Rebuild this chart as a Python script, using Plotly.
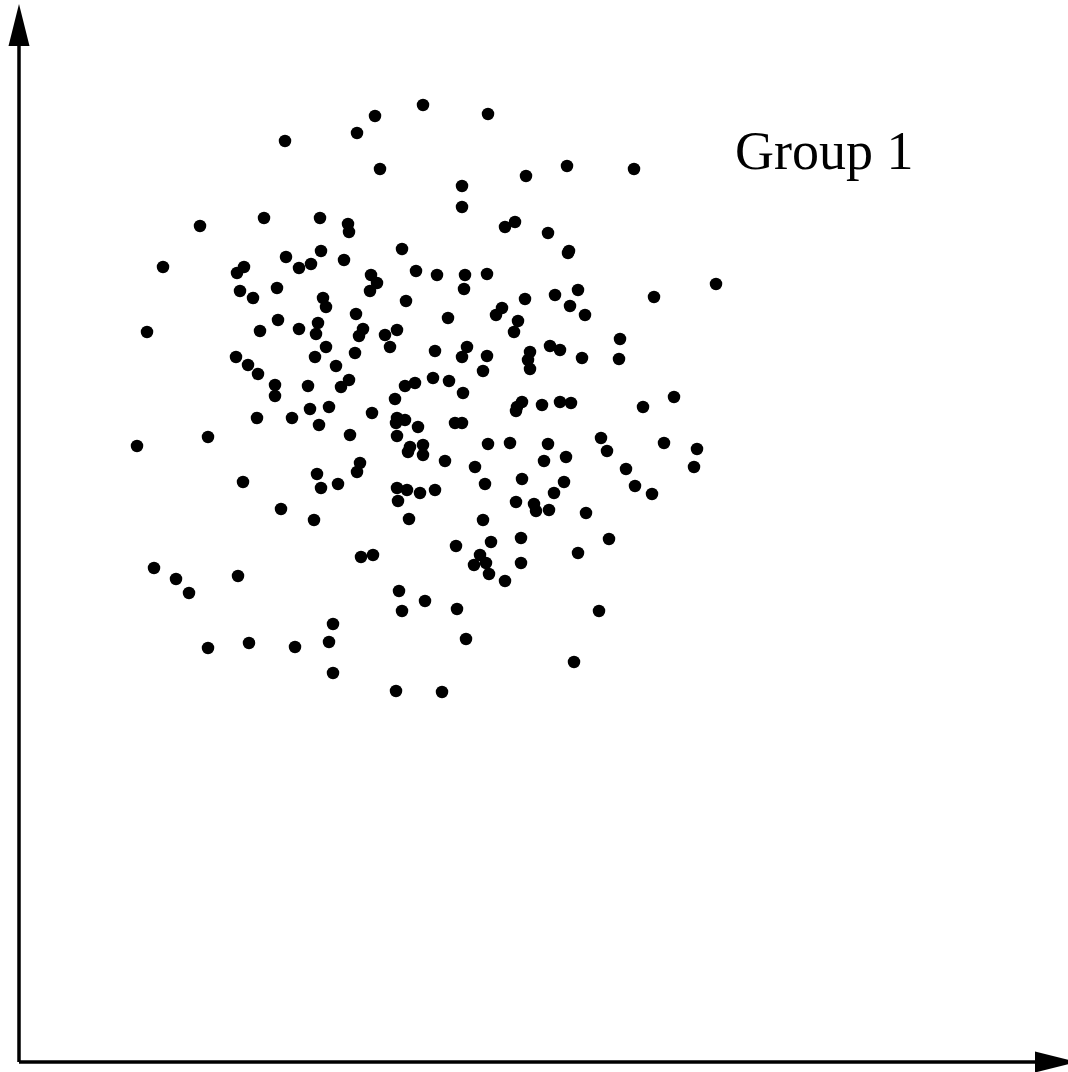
import plotly.graph_objects as go

# Point positions (units: pixels from the axis origin)
ORIGIN_X = 19
ORIGIN_Y = 1062
px = [423, 488, 375, 357, 285, 380, 567, 634, 462, 526, 462, 200, 264, 320, 348, 349, 505, 515, 548, 402,
      321, 286, 344, 568, 569, 311, 299, 244, 237, 163, 416, 371, 377, 370, 240, 277, 253, 323, 437, 465,
      487, 464, 716, 525, 555, 578, 654, 326, 406, 147, 260, 278, 299, 318, 316, 356, 363, 359, 385, 397,
      390, 326, 315, 355, 236, 248, 258, 275, 275, 308, 336, 349, 341, 395, 405, 415, 310, 329, 257, 292,
      372, 319, 350, 397, 405, 396, 418, 397, 410, 408, 423, 423, 208, 137, 317, 360, 357, 243, 321, 338,
      397, 407, 420, 570, 585, 448, 502, 496, 518, 514, 620, 619, 435, 467, 462, 487, 483, 530, 528, 530,
      550, 560, 582, 433, 449, 463, 522, 517, 516, 542, 560, 571, 643, 674, 455, 462, 488, 510, 548, 601,
      607, 664, 697, 694, 445, 475, 544, 566, 626, 522, 485, 564, 635, 435, 554, 652, 516, 534, 536, 549,
      586, 483, 456, 491, 521, 609, 578, 480, 474, 486, 489, 521, 505, 425, 457, 599, 466, 574, 442, 281,
      314, 398, 409, 361, 373, 154, 176, 189, 238, 399, 402, 333, 329, 208, 249, 295, 333, 396]
py = [105, 114, 116, 133, 141, 169, 166, 169, 186, 176, 207, 226, 218, 218, 224, 232, 227, 222, 233, 249,
      251, 257, 260, 253, 251, 264, 268, 267, 273, 267, 271, 275, 283, 291, 291, 288, 298, 298, 275, 275,
      274, 289, 284, 299, 295, 290, 297, 307, 301, 332, 331, 320, 329, 323, 334, 314, 329, 336, 335, 330,
      347, 347, 357, 353, 357, 365, 374, 385, 396, 386, 366, 380, 387, 399, 386, 383, 409, 407, 418, 418,
      413, 425, 435, 418, 420, 423, 427, 436, 447, 452, 445, 455, 437, 446, 474, 463, 472, 482, 488, 484,
      488, 490, 493, 306, 315, 318, 308, 315, 321, 332, 339, 359, 351, 347, 357, 356, 371, 352, 360, 369,
      346, 350, 358, 378, 381, 393, 402, 407, 411, 405, 402, 403, 407, 397, 423, 423, 444, 443, 444, 438,
      451, 443, 449, 467, 461, 467, 461, 457, 469, 479, 484, 482, 486, 490, 493, 494, 502, 504, 511, 510,
      513, 520, 546, 542, 538, 539, 553, 555, 565, 563, 574, 563, 581, 601, 609, 611, 639, 662, 692, 509,
      520, 501, 519, 557, 555, 568, 579, 593, 576, 591, 611, 624, 642, 648, 643, 647, 673, 691]

xs = [v - ORIGIN_X for v in px]
ys = [ORIGIN_Y - v for v in py]

label = "Group 1"

W, H = 1068, 1072
fig = go.Figure()
fig.add_trace(go.Scatter(x=xs, y=ys, mode="markers",
                         marker=dict(size=12.5, color="black", line=dict(width=0)),
                         hoverinfo="skip", showlegend=False))

xmin, xmax = -ORIGIN_X, W - ORIGIN_X
ymin, ymax = ORIGIN_Y - H, ORIGIN_Y

lw = 3.5
# axis lines
fig.add_shape(type="line", x0=0, y0=0, x1=0, y1=ORIGIN_Y - 44, line=dict(color="black", width=lw))
fig.add_shape(type="line", x0=0, y0=0, x1=1035 - ORIGIN_X, y1=0, line=dict(color="black", width=lw))
# arrow heads
fig.add_shape(type="path",
              path=f"M {-10.5},{ORIGIN_Y-46} L {10.5},{ORIGIN_Y-46} L 0,{ORIGIN_Y-4} Z",
              fillcolor="black", line=dict(color="black", width=0))
fig.add_shape(type="path",
              path=f"M {1035-ORIGIN_X},{-10.5} L {1035-ORIGIN_X},{10.5} L {1077-ORIGIN_X},0 Z",
              fillcolor="black", line=dict(color="black", width=0))

fig.add_annotation(x=733 - ORIGIN_X, y=ORIGIN_Y - 151, text=label, showarrow=False,
                   xanchor="left", yanchor="middle",
                   font=dict(family="Liberation Serif", size=54, color="black"))

fig.update_xaxes(range=[xmin, xmax], visible=False, showgrid=False, zeroline=False)
fig.update_yaxes(range=[ymin, ymax], visible=False, showgrid=False, zeroline=False)
fig.update_layout(width=W, height=H, margin=dict(l=0, r=0, t=0, b=0),
                  paper_bgcolor="white", plot_bgcolor="white", autosize=False)

fig.write_html("out.html", config={"displayModeBar": False},
               post_script="document.body.style.margin='0';")
